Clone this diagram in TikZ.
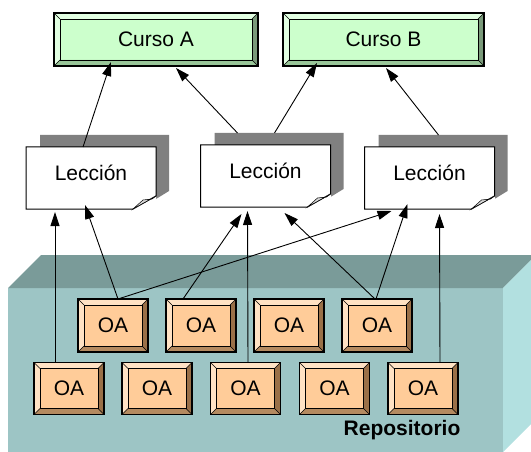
\documentclass[tikz,border=0pt]{standalone}
\usepackage{fontspec}
\setmainfont{Liberation Sans}
\usetikzlibrary{arrows.meta,calc}
\pgfdeclarelayer{back}
\pgfdeclarelayer{shade}
\pgfsetlayers{back,shade,main}
\definecolor{cursofill}{HTML}{CCFFCC}
\definecolor{cursolight}{HTML}{E2FFE2}
\definecolor{cursobottom}{HTML}{99C699}
\definecolor{cursoright}{HTML}{7A9A7A}
\definecolor{oafill}{HTML}{FFCC99}
\definecolor{oalight}{HTML}{FFE2C4}
\definecolor{oabottom}{HTML}{B48A60}
\definecolor{oaright}{HTML}{9A7048}
\definecolor{repotop}{HTML}{7A9B99}
\definecolor{repofront}{HTML}{9DC5C5}
\definecolor{reposide}{HTML}{B2E0E0}
\definecolor{shadowgray}{HTML}{808080}
\definecolor{curlgray}{HTML}{D8D8D8}
\newcommand\bevelize[5]{%
  \fill[#2] (#1.north west) -- (#1.north east) -- ($(#1.north east)+(-#5,#5)$) -- ($(#1.north west)+(#5,#5)$) -- ($(#1.south west)+(#5,-#5)$) -- (#1.south west) -- cycle;
  \fill[#3] (#1.south west) -- (#1.south east) -- ($(#1.south east)+(-#5,-#5)$) -- ($(#1.south west)+(#5,-#5)$) -- cycle;
  \fill[#4] (#1.north east) -- (#1.south east) -- ($(#1.south east)+(-#5,-#5)$) -- ($(#1.north east)+(-#5,#5)$) -- cycle;
  \draw[line width=0.5pt] (#1.north west) -- ++(#5,#5) (#1.north east) -- ++(-#5,#5) (#1.south east) -- ++(-#5,-#5) (#1.south west) -- ++(#5,-#5);
  \draw[line width=0.9pt] ($(#1.north west)+(#5,#5)$) rectangle ($(#1.south east)+(-#5,-#5)$);
  \draw[line width=1.2pt] (#1.north west) rectangle (#1.south east);
}
\newcommand\lessonshape[1]{%
  \begin{pgfonlayer}{shade}
    \fill[shadowgray] ($(#1.north west)+(14,-12)$) -- ($(#1.north east)+(13,-12)$) -- ($(#1.north east)+(13,44)$) -- ($(#1.north east)+(0,52)$) -- ($(#1.north west)+(14,52)$) -- cycle;
  \end{pgfonlayer}
  \fill[white] ($(#1.south east)+(-23,0)$) -- (#1.south east) -- ($(#1.south east)+(0,-13)$) -- cycle;
  \draw[line width=1pt] (#1.north west) -- (#1.north east) -- ($(#1.south east)+(0,-13)$) -- ($(#1.south east)+(-23,0)$) -- (#1.south west) -- cycle;
  \filldraw[fill=curlgray, line width=0.5pt] ($(#1.south east)+(-23,0)$) -- ($(#1.south east)+(-13,-9)$) -- ($(#1.south east)+(-4,-10)$) -- ($(#1.south east)+(0,-13)$) -- cycle;
}
\begin{document}
\begin{tikzpicture}[x=1pt,y=-1pt,
  txt/.style={font=\fontsize{21}{24}\selectfont},
  curso/.style={txt, fill=cursofill, minimum width=#1, minimum height=53pt, inner sep=0pt, outer sep=0pt},
  oa/.style={txt, fill=oafill, minimum width=70pt, minimum height=#1, inner sep=0pt, outer sep=0pt},
  lesson/.style={txt, fill=white, minimum width=130pt, minimum height=62pt, inner sep=0pt, outer sep=0pt, text depth=10pt},
  conn/.style={-{Triangle[length=14pt,width=9pt]}, line width=0.9pt}]
\useasboundingbox (0,0) rectangle (531,452);
% repository
\begin{pgfonlayer}{back}
  \fill[repofront] (8,288) rectangle (503,452);
  \fill[repotop] (8,288) -- (41,255) -- (531,255) -- (531,260) -- (503,288) -- cycle;
  \fill[reposide] (503,288) -- (531,260) -- (531,424) -- (503,452) -- cycle;
\end{pgfonlayer}
\node[font=\fontsize{21}{24}\selectfont\bfseries, anchor=base] (repo) at (402,435) {Repositorio};
% courses
\node[curso=204pt] (ca) at (156,39.5) {Curso A};
\node[curso=201pt] (cb) at (383.5,39.5) {Curso B};
\bevelize{ca}{cursolight}{cursobottom}{cursoright}{6}
\bevelize{cb}{cursolight}{cursobottom}{cursoright}{6}
% lessons
\node[lesson] (l1) at (91,178) {Lección};
\node[lesson] (l2) at (265.5,176) {Lección};
\node[lesson] (l3) at (429.5,178) {Lección};
\lessonshape{l1}
\lessonshape{l2}
\lessonshape{l3}
% learning objects
\node[oa=53pt] (o1) at (113,325.5) {OA};
\node[oa=53pt] (o2) at (201,325.5) {OA};
\node[oa=53pt] (o3) at (289,325.5) {OA};
\node[oa=53pt] (o4) at (377,325.5) {OA};
\node[oa=52pt] (o5) at (69,388.5) {OA};
\node[oa=52pt] (o6) at (157,388.5) {OA};
\node[oa=52pt] (o7) at (245.5,388.5) {OA};
\node[oa=52pt] (o8) at (334.5,388.5) {OA};
\node[oa=52pt] (o9) at (423,388.5) {OA};
\foreach \n in {o1,o2,o3,o4,o5,o6,o7,o8,o9}{\bevelize{\n}{oalight}{oabottom}{oaright}{6}}
% lessons -> courses
\draw[conn] ($(l1.north west)+(57,0)$) -- ($(ca.south west)+(57,-4)$);
\draw[conn] ($(l2.north west)+(37,-12)$) -- ($(ca.south west)+(122,2)$);
\draw[conn] ($(l2.north west)+(74,-12)$) -- ($(cb.south west)+(34,-3)$);
\draw[conn] ($(l3.north west)+(74,-12)$) -- ($(cb.south west)+(103,2)$);
% objects -> lessons
\draw[conn] ($(o5.north west)+(21,0)$) -- ($(l1.south west)+(29,3)$);
\draw[conn] ($(o1.north)+(5,0)$) -- ($(l1.south west)+(59,-4)$);
\draw[conn] ($(o2.north)+(-18,0)$) -- ($(l2.south west)+(41,7)$);
\draw[conn] ($(o7.north)+(2.5,0)$) -- ($(l2.south west)+(47,4)$);
\draw[conn] ($(o4.north)+(-2,0)$) -- ($(l2.south west)+(84,6)$);
\draw[conn] ($(o1.north)+(5,0)$) -- ($(l3.south west)+(27,2)$);
\draw[conn] ($(o4.north)+(-1,0)$) -- ($(l3.south west)+(43,-5)$);
\draw[conn] ($(o9.north)+(17,0)$) -- ($(l3.south west)+(75,5)$);
\end{tikzpicture}
\end{document}
